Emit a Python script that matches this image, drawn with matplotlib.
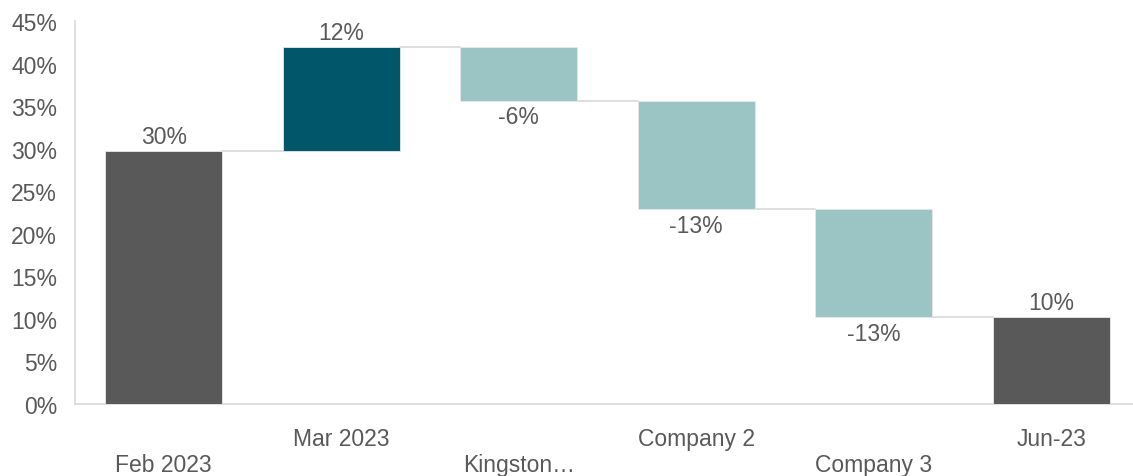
import matplotlib
matplotlib.use("Agg")
import matplotlib.pyplot as plt
from matplotlib.ticker import FuncFormatter

categories = ["Feb 2023", "Mar 2023", "Kingston\u2026", "Company 2", "Company 3", "Jun-23"]
kinds = ["total", "delta", "delta", "delta", "delta", "total"]
values = [29.7, 12.2, -6.3, -12.7, -12.7, 10.2]
labels = ["30%", "12%", "-6%", "-13%", "-13%", "10%"]
ytick_vals = [0, 5, 10, 15, 20, 25, 30, 35, 40, 45]

plt.rcParams['font.family'] = ['Liberation Sans', 'DejaVu Sans']
TXT = "#595959"
C_TOTAL = "#595959"
C_UP = "#02566A"
C_DOWN = "#9BC5C4"
GRID = "#D9D9D9"
FS = 16.5

fig = plt.figure(figsize=(11.33, 4.77), dpi=100)
ax = fig.add_axes([75/1133, 72/477, 1065/1133, 383/477])

bottoms, heights, colors, ends = [], [], [], []
level = 0.0
for k, v in zip(kinds, values):
    if k == "total":
        bottoms.append(0); heights.append(v); colors.append(C_TOTAL)
        level = v
    else:
        if v >= 0:
            bottoms.append(level); heights.append(v); colors.append(C_UP)
        else:
            bottoms.append(level + v); heights.append(-v); colors.append(C_DOWN)
        level = level + v
    ends.append(level)

x = list(range(len(categories)))
w = 0.66
ax.bar(x, heights, bottom=bottoms, width=w, color=colors, edgecolor="#E8E8E8", linewidth=0.6, zorder=3)

# connectors
for i in range(len(x) - 1):
    ax.plot([x[i] + w/2, x[i+1] - w/2], [ends[i], ends[i]], color=GRID, lw=1.2, zorder=2)

# value labels
for i, (k, v) in enumerate(zip(kinds, values)):
    top = bottoms[i] + heights[i]
    if k == "total" or v >= 0:
        ax.annotate(labels[i], (x[i], top), xytext=(0, 10.5), textcoords="offset points",
                    ha="center", va="center", fontsize=FS, color=TXT)
    else:
        ax.annotate(labels[i], (x[i], bottoms[i]), xytext=(0, -11.5), textcoords="offset points",
                    ha="center", va="center", fontsize=FS, color=TXT)

ax.set_xlim(-0.5, 5.5)
ax.set_ylim(0, 45)
ax.set_yticks(ytick_vals)
ax.yaxis.set_major_formatter(FuncFormatter(lambda v, p: f"{v:.0f}%"))
ax.tick_params(axis="y", length=0, labelsize=FS, labelcolor=TXT, pad=13)
ax.set_xticks([])

for i, c in enumerate(categories):
    off = -43.3 if i % 2 == 0 else -24.5
    ax.annotate(c, (x[i], 0), xycoords=("data", "axes fraction"), xytext=(0, off),
                textcoords="offset points", ha="center", va="center", fontsize=FS, color=TXT,
                annotation_clip=False)

for s in ["top", "right"]:
    ax.spines[s].set_visible(False)
for s in ["left", "bottom"]:
    ax.spines[s].set_color(GRID)
    ax.spines[s].set_linewidth(1.2)

fig.savefig("out.png", dpi=100)
